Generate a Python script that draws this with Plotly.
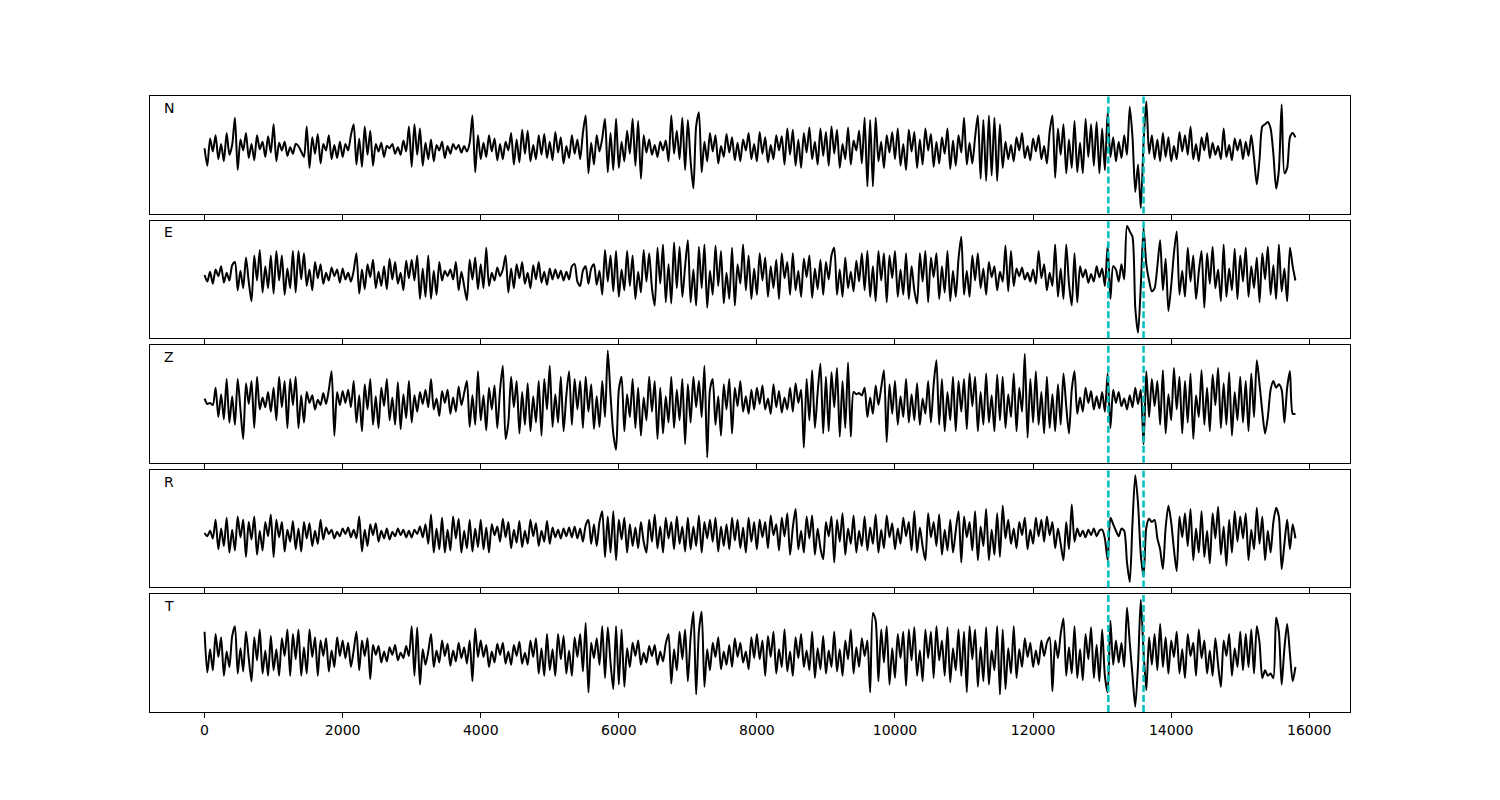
import numpy as np
import plotly.graph_objects as go

# ---------------- data ----------------
STEP = 40  # samples between consecutive listed values (x axis = sample index)
components = ["N", "E", "Z", "R", "T"]
picks = [13090, 13600]          # two marked arrivals (dashed cyan lines)
tick_vals = [0, 2000, 4000, 6000, 8000, 10000, 12000, 14000, 16000]
tick_text = ["0", "2000", "4000", "6000", "8000", "10000", "12000", "14000", "16000"]

trace_n = [
    0, -16, 9, -3, 12, -10, 4, -12, 14, -6, 3, 28, -20, 8, -2, 14, -9, 4, -11, 12, -1, 6, -8, 11, -4,
    22, -12, 5, -2, 6, -7, 1, -5, 4, 2, -3, -8, 20, -18, 10, -5, 13, -14, 4, -2, 12, -10, 3, -9, 6,
    -8, 4, -2, 12, 22, -15, 9, -17, 20, -6, 16, -16, 4, -3, 5, -8, 2, 0, 4, -5, 1, -6, 7, -3, 20,
    -17, 22, -6, 18, -16, 5, -10, 8, -12, 3, -2, 6, -9, 2, -5, 4, -1, 3, -4, 2, -3, 5, 30, -22, 12,
    -10, 5, -8, 12, -3, 9, -11, 4, -10, 6, -2, 14, -15, 8, -13, 17, -5, 16, -12, 3, -10, 12, -6, 13, -9,
    6, -11, 15, -4, 10, -14, 2, -9, 12, -5, 8, -10, 14, 30, -23, 5, -15, 12, -3, 9, 27, -22, 14, -20, 27,
    -18, 6, -12, 16, -5, 27, -16, 25, -28, 12, -4, 8, -6, 3, -8, 6, -2, 7, -12, 30, -5, 16, -10, 28, -20,
    26, -12, -37, 20, 33, -22, 6, -12, 14, -3, 12, -14, 2, -8, 13, -4, 10, -11, 5, -12, 8, -2, 14, -10, 4,
    -12, 15, -5, 10, -13, 3, -10, 12, -2, 11, -15, 18, -6, 17, -16, 8, -18, 14, -4, 19, -10, 6, -15, 18, -7,
    15, -16, 20, -5, 17, -18, 4, -10, 19, -15, 7, -2, 16, -14, 28, -35, 26, -35, 28, -12, 6, -18, 12, -4, 15,
    -10, 18, -16, 4, -20, 17, -3, 15, -18, 8, -15, 18, -2, 13, -17, 6, -14, 10, -5, 18, -19, 7, -16, 12, -4,
    28, -15, 5, -14, 10, 30, -28, 26, -30, 30, -25, 28, -30, 22, -18, 6, -10, 3, -12, 10, -2, 14, -9, 2, -11,
    9, -3, 12, -10, 2, -14, 15, 30, -27, 18, -6, 22, -23, 8, -18, 25, -22, 5, -23, 27, -8, 22, -16, 24, -23,
    18, -20, 33, -8, 10, -12, 6, -9, 12, -6, 38, 10, -40, -15, -55, 5, 43, -5, 12, -10, 8, -12, 14, -8, 10,
    -12, 2, -10, 15, -3, 12, -6, 20, -10, 4, -12, 10, -2, 14, -9, 5, -6, 2, -10, 18, -8, 3, -11, 9, -2,
    8, -10, 6, -7, 12, -9, -33, -10, 20, 22, 24, 18, -5, -37, -20, 40, -23, -18, 10, 14, 10,
]

trace_e = [
    0, -6, 3, -8, 5, -1, 8, -7, 2, -5, 9, 12, -14, 4, -12, 16, -6, -24, 18, -5, 23, -16, 8, -12, 18,
    -17, 22, -5, 18, -18, 6, -12, 22, -16, 22, -4, 20, -10, 5, -14, 12, -3, 10, -8, 2, -5, 7, -1, 5, -7,
    6, -4, 2, -6, 4, 20, -17, 5, -13, 10, -2, 14, -12, 3, -10, 8, -13, 15, -4, 12, -8, 2, -14, 13, -3,
    14, -5, 18, -22, 6, -20, 18, -22, 4, -18, 12, -5, 4, -1, 5, -4, 12, -14, 3, -10, -23, 14, -4, 16, -13,
    10, -12, 25, -10, 2, -5, 7, -1, 5, 18, -16, 6, -12, 10, -3, 12, -8, 2, -12, 9, -4, 12, -7, 3, -9,
    6, -4, 5, -3, 4, -5, 3, -4, 8, 10, -6, -10, 4, 8, -8, 6, 10, -9, 4, -18, 23, -6, 18, -15, 22,
    -20, 5, -14, 22, -10, 18, -22, 3, -16, 23, -6, 20, -12, -28, 25, -8, 28, -25, 10, -26, 30, -12, 26, -20, 8,
    32, -25, 5, -28, 26, -12, 28, -30, 4, -18, 27, -10, 22, -26, 2, -22, 25, -28, 10, -8, 28, -14, 18, -22, 6,
    -18, 20, -5, 16, -20, 8, -12, 14, -22, 20, -3, 12, -18, 20, -14, 4, -20, 15, -2, 18, -21, 6, -13, 14, -18,
    12, -4, 18, 25, -18, 5, -20, 16, -12, 3, -15, 13, -6, 20, -14, 22, -20, 8, -24, 22, -5, 20, -25, 18, -3,
    22, -20, 5, -18, 20, -22, 8, -14, -26, 20, -6, 22, -25, 16, -2, 20, -22, 8, -16, 22, -24, 4, -20, 15, 35,
    -18, 4, -20, 18, -5, 20, -12, 6, -18, 12, -2, 8, -14, 3, -6, 27, -15, 22, -10, 6, -1, 7, -4, 2, -6,
    5, -8, 22, -3, 10, -14, 2, -10, 28, -20, 6, -22, 28, -8, -28, 20, -25, 8, -2, 5, -7, 1, -6, 8, -2,
    6, -10, 27, -22, 8, 5, -6, 10, -4, 45, 40, 35, -30, -53, -10, 43, 10, -5, -15, -12, 8, 32, -14, 15, -33,
    -10, 20, 40, -18, 4, -20, 25, -6, 18, -22, 3, 22, -30, 20, -8, 26, -12, 5, -24, 28, -20, 6, -14, 24, -22,
    18, -6, 25, -20, 8, -12, 16, -25, 20, -4, 26, -18, 9, -22, 28, -15, 6, -24, 25, 8, -5,
]

trace_z = [
    2, -3, -2, -4, 12, -15, 6, -17, 20, -20, 4, -22, 20, -8, -35, 16, -3, 18, -25, 22, -8, 3, -6, 8, -10,
    12, -18, 22, -6, 18, -25, 20, -4, 22, -25, 5, -20, 8, -2, 5, -8, 1, -4, 7, -3, 10, 27, -32, 8, -4,
    9, -2, 10, -6, 18, -20, 5, -28, 15, -8, 20, -22, 4, -25, 12, -5, 20, -18, 3, -22, 17, -26, 6, -16, 18,
    -20, 5, -10, 8, -3, 10, -6, 20, -8, 2, -14, 9, -2, 10, -12, 3, -10, 13, -4, 7, 18, -24, 5, -22, 27,
    -18, 5, -27, 12, -8, 14, -25, 10, 32, -35, -20, 22, -6, 18, -30, 8, -22, 16, -28, 4, -20, 18, -32, 20, -8,
    32, -24, 6, -20, 22, -28, 5, 27, -22, 20, -8, 18, -25, 22, -10, 15, -26, 4, -24, 18, -15, 46, 5, -30, -45,
    10, 22, -28, 6, -15, 20, -25, 12, -32, 3, -18, 22, -10, 18, -35, 12, -30, 4, -20, 22, -25, 10, -18, 20, -40,
    15, -20, 22, -6, 18, -15, 32, -52, 10, 20, -22, 4, -32, 15, -8, 20, -30, 12, -5, 18, -10, 4, -12, 10, -8,
    12, -3, 14, -8, 2, -12, 15, -6, 9, -11, 3, -8, 12, -10, 16, -2, 10, -43, 20, -18, 28, -25, 8, 34, -30,
    22, -28, 26, -6, 30, -33, 18, -25, 35, -33, 8, 6, 7, 5, 12, -15, 3, -12, 14, -4, 12, 28, -38, 15, -12,
    18, -22, 4, -15, 20, -20, 6, -18, 16, -22, 2, -12, 18, -20, 15, 37, -22, 20, -28, 8, -18, 22, -28, 18, -10,
    20, -26, 25, -5, 22, -28, 8, -22, 25, -20, 5, -28, 24, -18, 22, -25, 6, -15, 25, -28, 12, -10, 43, -34, 20,
    -20, 27, -22, 8, -30, 22, -25, 6, -28, 15, -22, 25, -5, -30, 10, 27, -12, 3, -10, 12, -2, 9, -8, 4, -7,
    8, -10, 25, -25, 10, -2, 8, -5, 2, -8, 5, -6, 12, -3, 10, -40, 27, -15, 20, -5, 18, -22, 28, -30, 6,
    -18, 30, -8, 22, -30, 18, -20, 25, -35, 5, -15, 28, -22, 12, -28, 24, -4, 30, -25, 16, -22, 26, -32, 8, -18,
    22, -20, 18, -28, 25, -15, 37, 15, -10, -30, -15, 10, 18, 12, 15, 10, -20, 12, 27, -12, -12,
]

trace_r = [
    0, -3, 2, -5, 12, -15, 4, -12, 14, -18, 3, -16, 15, -4, 12, -22, 10, -6, 15, -20, 2, -16, 10, -3, 17,
    -22, 12, -4, 10, -17, 3, -8, 11, -15, 4, -17, 10, -5, 9, -12, 2, -10, 12, -6, 5, -1, 3, -5, 1, -3,
    4, -1, 5, -4, 3, -5, 15, -17, 3, -12, 8, -2, 9, -8, 2, -5, 4, -6, 1, -3, 4, -2, 3, -4, 2,
    -4, 3, -1, 6, -4, 8, -10, 17, -18, 4, -15, 14, -18, 3, -16, 15, -5, 13, -18, 2, -14, 12, -17, 4, -13,
    12, -15, 5, -18, 8, -2, 6, -8, 13, -4, 10, -14, 3, -9, 11, -13, 2, -10, 12, -3, 9, -12, 2, -8, 11,
    -10, 5, -4, 3, -5, 4, -3, 5, -4, 6, -5, 4, -8, 7, 12, -10, 8, -12, 10, 20, -22, 15, -18, 20, -25,
    12, -6, 14, -18, 8, -12, 5, -14, 10, -8, -18, 12, -8, 17, -14, 6, -18, 14, -5, 10, -15, 15, -10, 6, -17,
    14, -15, 6, -12, 16, -18, 10, -5, 12, -8, 14, -17, 6, -12, 8, -15, 14, -7, 12, -14, 5, -18, 14, -8, 10,
    -15, 12, -4, 10, -14, 16, -2, 8, -16, 14, -3, 18, -20, 5, 22, -15, 2, -18, 15, -5, 16, -20, 4, -14, -24,
    10, -3, 15, -27, 12, -8, 18, -20, 4, -10, 16, -18, 2, -12, 15, -16, 5, -10, 17, -18, 3, -14, 16, -4, 9,
    -15, 4, -10, 14, -3, 10, -16, 20, -18, 5, -12, -25, 18, -4, 10, -12, 17, -20, 3, -16, 12, -18, 2, 20, -27,
    15, -4, 10, -16, 20, -25, 6, -12, 22, -25, 3, -20, 18, -22, 25, -5, 12, -10, 4, -14, 10, -2, 14, -15, 3,
    -10, 14, -3, 12, -8, 15, -2, 10, -14, 4, -10, -25, 10, -15, 26, -8, 4, -3, 2, -4, 3, -2, 4, -3, 2,
    3, -5, -25, 14, 8, 2, -3, 4, 2, -27, -45, 10, 53, 27, -20, -40, 5, 13, 10, 12, -5, -15, -33, 5, 25,
    10, -15, -35, 15, -4, 18, -12, 22, -25, 4, -18, 20, -22, 2, -28, 18, -5, 24, -20, 6, -30, 12, -18, 20, -8,
    15, -5, 18, -25, 3, -15, 23, -10, 15, -25, 2, -18, 10, 23, 15, -33, -10, 12, -15, 8, -5,
]

trace_t = [
    20, -17, 4, -15, 18, -3, 15, -20, 2, -12, 16, 25, -18, 5, -16, 20, -4, -25, 15, -6, 22, -18, 3, -20, 16,
    -15, 4, -20, 14, -2, 22, -20, 18, -5, 22, -20, 6, -18, 22, -3, 15, -20, 12, -2, 14, -16, 3, -12, 15, -2,
    12, -4, 10, -12, 3, 20, -15, 12, -2, 14, -23, 8, -1, 7, -8, 2, -7, 6, -1, 8, -6, 1, -4, 7, -2,
    25, -20, 24, -28, 4, -10, 2, 18, -12, 3, -8, 12, -2, 9, -11, 3, -7, 10, -4, 6, -9, 12, -25, 23, -3,
    12, -3, 8, -12, 2, -8, 9, -1, 10, -9, 2, -10, 8, -2, 11, -9, 1, -10, 12, -3, 14, -18, 5, -20, 18,
    -15, 4, -20, 18, -5, 16, -18, 3, -20, 15, -3, 18, -16, 28, -35, 10, -4, 14, -10, 25, -22, 24, -8, -32, 25,
    -28, 22, -30, 5, -12, 10, -2, 12, -10, 1, -8, 7, -2, 8, -10, 2, -7, 9, 18, -27, 4, -15, 20, -5, 22,
    -25, 15, 38, -37, 20, 38, -30, 4, -15, 10, -3, 15, -14, 2, -10, 8, -12, 14, -3, 10, -8, 2, -14, 15, -4,
    18, -5, 12, -20, 16, -3, 20, -18, 4, -12, 22, -16, 2, -20, 15, -4, 18, -12, 3, -15, 20, -22, 5, -14, 16,
    -18, 3, -12, 20, -16, 4, -20, 12, -5, 22, -18, 6, -12, 14, -2, 12, -35, 37, 30, -25, 22, -8, 25, -28, 5,
    -22, 18, -4, 20, -29, 22, -6, 24, -20, 3, -25, 22, -4, 20, -22, 25, -6, 12, -20, 24, -26, 5, -15, 22, -20,
    20, -35, 25, -5, 22, -30, 6, -25, 24, -28, 3, -15, 25, -37, 22, -32, 5, -18, 25, -22, 4, -12, 14, -3, 10,
    -12, 3, -10, 12, -2, 10, 15, -34, 12, -4, 18, 32, -20, 6, -18, 25, -22, 4, -24, 18, -5, 24, -22, 8, -25,
    22, -20, -35, 30, -10, 12, -8, 10, -12, 42, 10, -20, -48, -10, 49, 2, -33, 15, -10, 18, -15, 27, -12, 15, -18,
    12, -3, 20, -18, 4, -22, 18, -2, 10, -20, 22, -4, 12, -18, 3, -20, 14, -10, -30, 12, -2, 18, -20, 5, -12,
    20, -15, 18, -12, 22, -18, 25, 10, -22, -15, -20, -18, -22, 33, 20, -28, 5, 27, 0, -25, -12,
]

traces = [trace_n, trace_e, trace_z, trace_r, trace_t]

# ---------------- figure ----------------
W, H = 1500, 800
OFF = 8                           # page body margin of the written html
FONT = "DejaVu Sans"
LEFT, RIGHT = 150 - OFF, 1350 - OFF
TOP0, PANEL_H, PITCH = 96 - OFF, 117.6, 124.6

last = max(len(t) for t in traces) - 1
x_end = last * STEP
x_range = [-0.05 * x_end, 1.05 * x_end]

fig = go.Figure()
layout = {}
shapes = []
annotations = []

for i, (name, vals) in enumerate(zip(components, traces)):
    sfx = "" if i == 0 else str(i + 1)
    x = np.arange(len(vals)) * STEP
    fig.add_trace(go.Scatter(
        x=x, y=vals, mode="lines",
        line=dict(color="black", width=2, shape="spline", smoothing=0.7),
        xaxis="x" + sfx, yaxis="y" + sfx,
        showlegend=False, hoverinfo="skip",
    ))
    top = TOP0 + i * PITCH
    bottom = top + PANEL_H
    vmin, vmax = min(vals), max(vals)
    pad = 0.05 * (vmax - vmin)
    is_bottom = i == len(components) - 1
    layout["xaxis" + sfx] = dict(
        domain=[LEFT / W, RIGHT / W], anchor="y" + sfx,
        range=x_range, tickvals=tick_vals, ticktext=tick_text,
        showticklabels=is_bottom, ticks="outside", ticklen=5, tickwidth=1,
        tickcolor="black", showline=True, linecolor="black", linewidth=1,
        mirror=True, showgrid=False, zeroline=False,
        tickfont=dict(family=FONT, size=14, color="black"),
    )
    layout["yaxis" + sfx] = dict(
        domain=[1 - bottom / H, 1 - top / H], anchor="x" + sfx,
        range=[vmin - pad, vmax + pad], showticklabels=False, ticks="",
        showline=True, linecolor="black", linewidth=1, mirror=True,
        showgrid=False, zeroline=False,
    )
    for p in picks:
        shapes.append(dict(
            type="line", xref="x" + sfx, yref="y" + sfx + " domain",
            x0=p, x1=p, y0=0, y1=1,
            line=dict(color="#00bfbf", width=2.5, dash="7px,3px"), layer="above",
        ))
    annotations.append(dict(
        text=name, xref="x" + sfx + " domain", yref="y" + sfx + " domain",
        x=0.01, y=0.9, xanchor="left", yanchor="middle", showarrow=False,
        font=dict(family=FONT, size=14, color="black"),
    ))

fig.update_layout(
    width=W, height=H,
    margin=dict(l=0, r=0, t=0, b=0),
    paper_bgcolor="white", plot_bgcolor="white",
    shapes=shapes, annotations=annotations,
    font=dict(family=FONT, size=14, color="black"),
    **layout,
)

fig.write_html("out.html", config={"displayModeBar": False})
